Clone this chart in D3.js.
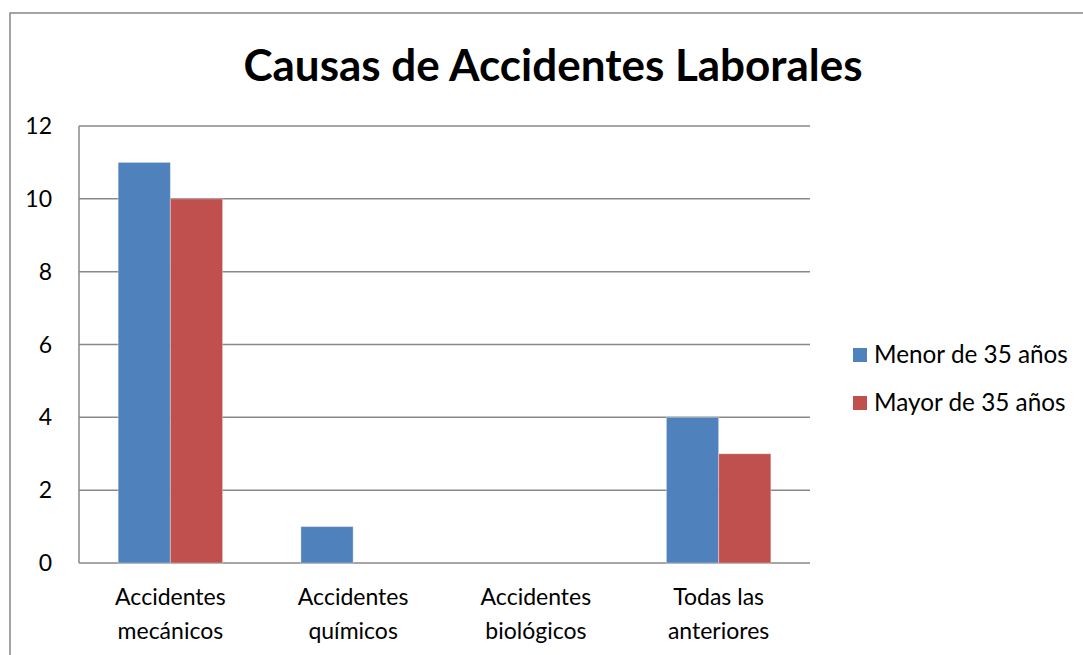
<!DOCTYPE html>
<html>
<head>
<meta charset="utf-8">
<script src="https://cdn.jsdelivr.net/npm/d3@7"></script>
<style>
  body { margin: 0; background: #fff; }
  text { font-family: Lato, "Open Sans", sans-serif; fill: #000; }
</style>
</head>
<body>
<svg id="chart" width="1083" height="655"></svg>
<script>
// data
var categories = [["Accidentes", "mecánicos"], ["Accidentes", "químicos"],
                  ["Accidentes", "biológicos"], ["Todas las", "anteriores"]];
var seriesNames = ["Menor de 35 años", "Mayor de 35 años"];
var menor35 = [11, 1, 0, 4];
var mayor35 = [10, 0, 0, 3];
var yTicks = [0, 2, 4, 6, 8, 10, 12];
var colours = ["#4F81BD", "#C0504D"];

var svg = d3.select("#chart");

// outer chart border (runs off the right / bottom edges)
svg.append("rect")
  .attr("x", 10).attr("y", 13)
  .attr("width", 1100).attr("height", 700)
  .attr("fill", "none").attr("stroke", "#868686").attr("stroke-width", 1.5);

svg.append("text")
  .attr("x", 553).attr("y", 81)
  .attr("text-anchor", "middle")
  .style("font-size", "44px").style("font-weight", "bold")
  .text("Causas de Accidentes Laborales");

var pLeft = 79, pRight = 810, pTop = 126, pBottom = 563;

var x = d3.scaleBand().domain(d3.range(categories.length)).range([pLeft, pRight]);
// gap width 75% -> group of two bars is band/1.75
var groupW = x.bandwidth() / 1.75;
var x1 = d3.scaleBand().domain([0, 1]).range([0, groupW]);
var y = d3.scaleLinear().domain([0, 12]).range([pBottom, pTop]);

// gridlines
svg.append("g").selectAll("line")
  .data(yTicks)
  .join("line")
    .attr("x1", pLeft).attr("x2", pRight)
    .attr("y1", function(d) { return y(d); })
    .attr("y2", function(d) { return y(d); })
    .attr("stroke", "#888").attr("stroke-width", 1.5);

// y axis line
svg.append("line")
  .attr("x1", pLeft).attr("x2", pLeft)
  .attr("y1", pTop).attr("y2", pBottom)
  .attr("stroke", "#888").attr("stroke-width", 1.5);

// y tick labels
svg.append("g").selectAll("text")
  .data(yTicks)
  .join("text")
    .attr("x", 52)
    .attr("y", function(d) { return y(d) + 8; })
    .attr("text-anchor", "end")
    .style("font-size", "23px")
    .text(function(d) { return d; });

// bars
var series = [menor35, mayor35];
series.forEach(function(vals, s) {
  svg.append("g").selectAll("rect")
    .data(vals.map(function(v) { return v; }))
    .join("rect")
      .attr("x", function(d, i) { return x(i) + (x.bandwidth() - groupW) / 2 + x1(s); })
      .attr("width", x1.bandwidth())
      .attr("y", function(d) { return y(d); })
      .attr("height", function(d) { return y(0) - y(d); })
      .attr("fill", colours[s])
      .attr("stroke", function(d) { return d > 0 ? "#ffffff" : "none"; })
      .attr("stroke-opacity", 0.35)
      .attr("stroke-width", 1);
});

// category labels
var catG = svg.append("g").selectAll("text")
  .data(categories)
  .join("text")
    .attr("text-anchor", "middle")
    .style("font-size", "23px")
    .attr("transform", function(d, i) { return "translate(" + (x(i) + x.bandwidth() / 2) + ",605)"; });
catG.append("tspan").attr("x", 0).attr("y", 0).text(function(d) { return d[0]; });
catG.append("tspan").attr("x", 0).attr("y", 34).text(function(d) { return d[1]; });

// legend
var leg = svg.append("g").selectAll("g")
  .data(seriesNames)
  .join("g")
    .attr("transform", function(d, i) { return "translate(853," + (348 + i * 48) + ")"; });
leg.append("rect")
  .attr("width", 14).attr("height", 14)
  .attr("fill", function(d, i) { return colours[i]; });
leg.append("text")
  .attr("x", 21).attr("y", 15)
  .style("font-size", "24.3px")
  .text(function(d) { return d; });
</script>
</body>
</html>
